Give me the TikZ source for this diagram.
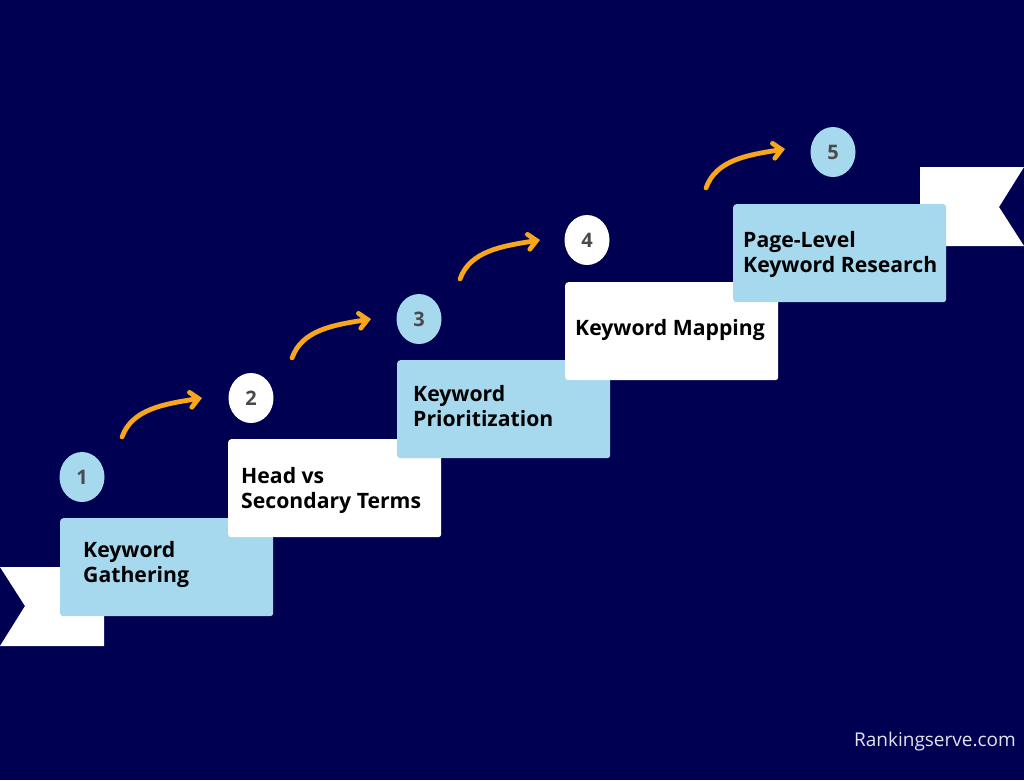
\documentclass[tikz,border=0pt]{standalone}
\usepackage{fontspec}
\setmainfont{Open Sans}
\usetikzlibrary{arrows.meta}
\definecolor{navy}{HTML}{000052}
\definecolor{lblue}{HTML}{A6D8EE}
\definecolor{orng}{HTML}{F8A71B}
\definecolor{numgray}{HTML}{4A4A4A}
\definecolor{wm}{HTML}{E2E2EC}
\tikzset{
  stepbox/.style={rounded corners=3pt, minimum width=213pt, minimum height=98pt, inner sep=0pt, anchor=north west},
  bluebox/.style={stepbox, fill=lblue},
  whitebox/.style={stepbox, fill=white},
  steptext/.style={anchor=west, align=left, inner sep=0pt, font=\bfseries\fontsize{21.2}{25}\selectfont, text=black},
  numcirc/.style={inner sep=0pt, font=\bfseries\fontsize{20}{20}\selectfont, text=numgray},
  flow/.style={draw=orng, line width=4.8pt, line cap=round, -{Straight Barb[length=8pt,width=15pt,line cap=round]}},
}
\begin{document}
\begin{tikzpicture}[x=1pt,y=-1pt]
\useasboundingbox (0,0) rectangle (1024,780);
\fill[navy] (0,0) rectangle (1024,780);
% flags
\fill[white] (0,567) -- (104,567) -- (104,646) -- (0,646) -- (25,606) -- cycle;
\fill[white] (920,167) -- (1024,167) -- (999,207) -- (1024,246) -- (920,246) -- cycle;
% circles
\fill[lblue] (82,477) ellipse (22.5 and 25);
\node[numcirc] (c1) at (82,477) {1};
\fill[white] (251,398) ellipse (22.5 and 25);
\node[numcirc] (c2) at (251,398) {2};
\fill[lblue] (419,319) ellipse (22.5 and 25);
\node[numcirc] (c3) at (419,319) {3};
\fill[white] (587,240) ellipse (22.5 and 25);
\node[numcirc] (c4) at (587,240) {4};
\fill[lblue] (833,152) ellipse (22.5 and 25);
\node[numcirc] (c5) at (833,152) {5};
% boxes
\node[bluebox] (b1) at (60,518) {};
\node[steptext] (t1) at ([xshift=23pt,yshift=3pt]b1.west) {Keyword\\Gathering};
\node[whitebox] (b2) at (228,439) {};
\node[steptext] (t2) at ([xshift=13pt,yshift=-2pt]b2.west) {Head vs\\Secondary Terms};
\node[bluebox] (b3) at (397,360) {};
\node[steptext] (t3) at ([xshift=16pt,yshift=3.5pt]b3.west) {Keyword\\Prioritization};
\node[whitebox] (b4) at (565,282) {};
\node[steptext] (t4) at ([xshift=10pt,yshift=1pt]b4.west) {Keyword Mapping};
\node[bluebox] (b5) at (733,204) {};
\node[steptext] (t5) at ([xshift=10pt,yshift=-1pt]b5.west) {Page-Level\\Keyword Research};
% arrows
\coordinate (a1s) at (122,437); \coordinate (a1e) at (202,398);
\coordinate (a2s) at (292,358); \coordinate (a2e) at (371,319);
\coordinate (a3s) at (460,279); \coordinate (a3e) at (540,240);
\coordinate (a4s) at (706,188); \coordinate (a4e) at (785,149);
\foreach \s/\e in {a1s/a1e,a2s/a2e,a3s/a3e,a4s/a4e}{
  \draw[flow] (\s) .. controls ([shift={(10,-28)}]\s) and ([shift={(-38,6)}]\e) .. (\e);
}
% watermark
\node[anchor=base east, inner sep=0pt, text=wm, font=\fontsize{19}{19}\selectfont] (wm) at (1016,746) {Rankingserve.com};
\end{tikzpicture}
\end{document}
